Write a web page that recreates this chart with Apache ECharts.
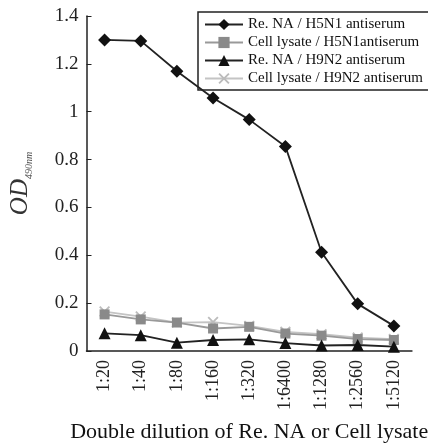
<!DOCTYPE html>
<html><head><meta charset="utf-8">
<script src="https://cdn.jsdelivr.net/npm/echarts@6/dist/echarts.min.js"></script>
<style>html,body{margin:0;padding:0;background:#fff}#c{width:428px;height:448px}</style>
</head><body><div id="c"></div>
<script>
const categories = ['1:20','1:40','1:80','1:160','1:320','1:6400','1:1280','1:2560','1:5120'];
const seriesNames = ['Re. NA / H5N1 antiserum','Cell lysate / H5N1antiserum','Re. NA / H9N2 antiserum','Cell lysate / H9N2 antiserum'];
const reNA_H5N1 = [1.30, 1.296, 1.169, 1.057, 0.967, 0.855, 0.413, 0.197, 0.105];
const cell_H5N1 = [0.153, 0.132, 0.119, 0.094, 0.101, 0.073, 0.064, 0.050, 0.046];
const reNA_H9N2 = [0.074, 0.066, 0.035, 0.046, 0.049, 0.033, 0.023, 0.025, 0.018];
const cell_H9N2 = [0.165, 0.144, 0.119, 0.121, 0.105, 0.080, 0.070, 0.056, 0.050];
const yTicks = [0, 0.2, 0.4, 0.6, 0.8, 1, 1.2, 1.4];

const serif = '"Liberation Serif","DejaVu Serif",serif';
const xSym = 'path://M0,1.2 L1.2,0 L5,3.8 L8.8,0 L10,1.2 L6.2,5 L10,8.8 L8.8,10 L5,6.2 L1.2,10 L0,8.8 L3.8,5 Z';
const chart = echarts.init(document.getElementById('c'));
function mk(name, data, color, lineColor, symbol, size, z){
  return {name, type:'line', data, symbol, symbolSize:size, z,
    lineStyle:{color:lineColor, width:1.8},
    itemStyle:{color:color}};
}
chart.setOption({
  animation:false,
  backgroundColor:'#fff',
  grid:{left:80, right:2, top:16, bottom:90},
  legend:{
    orient:'vertical', left:198, top:12,
    padding:[5,10,4,6], itemGap:3, itemWidth:38, itemHeight:14,
    borderColor:'#222', borderWidth:1.5, backgroundColor:'#fff',
    textStyle:{fontFamily:serif, fontSize:15, color:'#111'},
    data:seriesNames
  },
  xAxis:{
    type:'category', data:categories, boundaryGap:true,
    name:'Double dilution of Re. NA or Cell lysate', nameLocation:'middle', nameGap:70,
    nameTextStyle:{fontFamily:serif, fontSize:22, color:'#111'},
    axisLine:{lineStyle:{color:'#222', width:1.5}},
    axisTick:{inside:true, length:5, lineStyle:{color:'#222'}},
    axisLabel:{rotate:90, margin:9, fontFamily:serif, fontSize:18, color:'#222'}
  },
  yAxis:{
    type:'value', min:0, max:1.4, interval:0.2,
    name:'{a|OD}{b|490nm}', nameLocation:'middle', nameRotate:90, nameGap:52,
    nameTextStyle:{rich:{
      a:{fontFamily:serif, fontStyle:'italic', fontSize:25, color:'#333', lineHeight:28},
      b:{fontFamily:serif, fontStyle:'italic', fontSize:10, color:'#555', verticalAlign:'bottom', lineHeight:20}
    }},
    splitLine:{show:false},
    axisLine:{show:true, lineStyle:{color:'#222', width:1.5}},
    axisTick:{show:true, inside:true, length:5, lineStyle:{color:'#222'}},
    axisLabel:{margin:8, fontFamily:serif, fontSize:19, color:'#222',
      formatter:v=>{const t=yTicks.find(k=>Math.abs(k-v)<1e-6);return String(t!==undefined?t:v);}}
  },
  series:[
    mk(seriesNames[0], reNA_H5N1, '#111', '#222', 'diamond', 13, 4),
    mk(seriesNames[1], cell_H5N1, '#8a8a8a', '#999', 'rect', 10, 3),
    mk(seriesNames[2], reNA_H9N2, '#111', '#222', 'triangle', 12, 5),
    mk(seriesNames[3], cell_H9N2, '#bcbcbc', '#c4c4c4', xSym, 11, 2)
  ]
});
</script></body></html>
